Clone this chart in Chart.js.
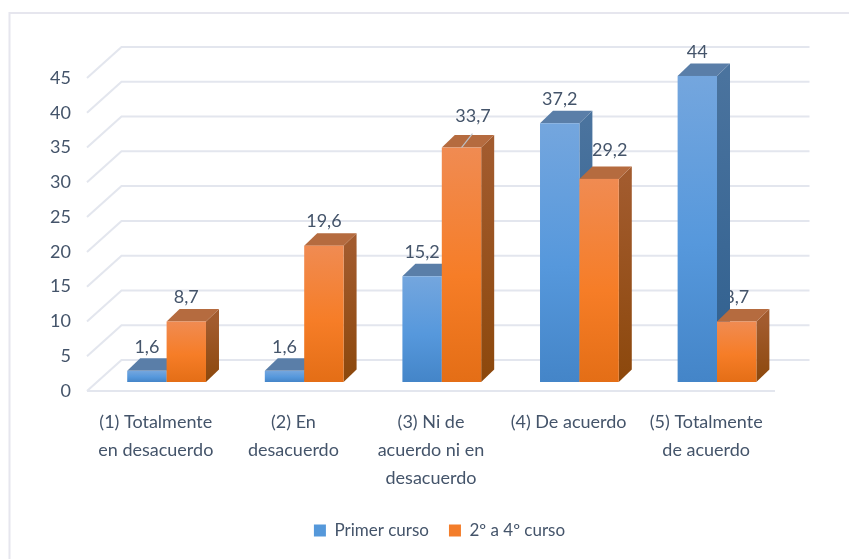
<!DOCTYPE html>
<html>
<head>
<meta charset="utf-8">
<style>
  html, body { margin: 0; padding: 0; background: #fff; }
  #wrap { position: relative; width: 849px; height: 559px; }
</style>
</head>
<body>
<div id="wrap"><canvas id="chart" width="849" height="559"></canvas></div>
<script src="https://cdn.jsdelivr.net/npm/chart.js@4"></script>
<script>
const categories = [
  ['(1) Totalmente', 'en desacuerdo'],
  ['(2) En', 'desacuerdo'],
  ['(3) Ni de', 'acuerdo ni en', 'desacuerdo'],
  ['(4) De acuerdo'],
  ['(5) Totalmente', 'de acuerdo']
]
const primerCurso = [1.6, 1.6, 15.2, 37.2, 44]
const segundoCuarto = [8.7, 19.6, 33.7, 29.2, 8.7]
const seriesNames = ['Primer curso', '2º a 4º curso']
const yTicks = [0, 5, 10, 15, 20, 25, 30, 35, 40, 45]

const textColor = '#44546a'
const gridColor = '#e3e6ee'
const fontName = 'Lato, sans-serif'

// 3d look: back wall offset, bars offset from the front plane, bar depth
const wall = { dx: 34.5, dy: -31 }
const shift = { dx: 10.8, dy: -9 }
const depth = { dx: 13, dy: -12.5 }

const faces = [
  { top: '#5a7ea8', side: ['#4a739e', '#2f5f8e'], front: ['#74a6de', '#5698dc', '#4485c8'] },
  { top: '#b56b3f', side: ['#a25b2e', '#8c480c'], front: ['#f08b52', '#f67d27', '#e46e16'] }
]

// labels that were moved by hand in the original
const labelMoves = { '1:2': { x: 11.5, y: -7 }, '1:3': { x: 10.6, y: -4.6 } }

function frontGradient(ctx, el, colors) {
  const g = ctx.createLinearGradient(0, el.y, 0, el.base)
  g.addColorStop(0, colors[0])
  g.addColorStop(0.55, colors[1])
  g.addColorStop(1, colors[2])
  return g
}

const fake3d = {
  id: 'fake3d',
  // the legend is centred on the whole canvas, not on the plot box
  afterLayout(chart) {
    chart.legend.left += 52
    chart.legend.right += 52
  },
  beforeDraw(chart) {
    const { ctx } = chart
    const y = chart.scales.y
    const left = chart.chartArea.left
    const right = chart.chartArea.right
    ctx.save()
    ctx.fillStyle = '#fff'
    ctx.fillRect(0, 0, chart.width, chart.height)
    ctx.strokeStyle = '#e6e6ee'
    ctx.lineWidth = 2
    ctx.beginPath()
    ctx.moveTo(9.5, chart.height)
    ctx.lineTo(9.5, 13)
    ctx.lineTo(chart.width, 13)
    ctx.stroke()
    ctx.strokeStyle = gridColor
    yTicks.forEach(v => {
      const py = y.getPixelForValue(v)
      ctx.beginPath()
      ctx.moveTo(left, py)
      ctx.lineTo(left + wall.dx, py + wall.dy)
      ctx.lineTo(right + wall.dx, py + wall.dy)
      ctx.stroke()
    })
    const floor = y.getPixelForValue(0)
    ctx.beginPath()
    ctx.moveTo(left, floor)
    ctx.lineTo(right, floor)
    ctx.stroke()
    ctx.restore()
  },
  // the library paints the last dataset first, here blue has to go under orange
  beforeDatasetDraw() {
    return false
  },
  afterDatasetsDraw(chart) {
    const { ctx } = chart
    ctx.save()
    ctx.translate(shift.dx, shift.dy)
    // value labels go under the bars, the tall blue bar hides part of the last 8,7
    ctx.font = '18px ' + fontName
    ctx.fillStyle = textColor
    ctx.textAlign = 'center'
    ctx.textBaseline = 'middle'
    chart.data.datasets.forEach((ds, d) => {
      chart.getDatasetMeta(d).data.forEach((el, i) => {
        const move = labelMoves[d + ':' + i] || { x: 0, y: 0 }
        const lx = el.x + move.x
        const ly = el.y - 24 + move.y
        ctx.fillText(String(ds.data[i]).replace('.', ','), lx, ly)
      })
    })
    chart.data.datasets.forEach((ds, d) => {
      chart.getDatasetMeta(d).controller.draw()
    })
    // leader line of the moved 33,7 label
    const el = chart.getDatasetMeta(1).data[2]
    ctx.strokeStyle = '#bcc0c6'
    ctx.lineWidth = 1.2
    ctx.beginPath()
    ctx.moveTo(el.x, el.y)
    ctx.lineTo(el.x + 11, el.y - 14)
    ctx.stroke()
    ctx.restore()
  }
}

// each bar draws its own side, top and front
class Bar3d extends Chart.BarElement {
  draw(ctx) {
    const half = this.width / 2
    const x0 = this.x - half
    const x1 = this.x + half
    const top = this.y
    const base = this.base
    const f = faces[this.$series]
    const side = ctx.createLinearGradient(0, top, 0, base)
    side.addColorStop(0, f.side[0])
    side.addColorStop(1, f.side[1])
    ctx.fillStyle = side
    ctx.beginPath()
    ctx.moveTo(x1, top)
    ctx.lineTo(x1 + depth.dx, top + depth.dy)
    ctx.lineTo(x1 + depth.dx, base + depth.dy)
    ctx.lineTo(x1, base)
    ctx.closePath()
    ctx.fill()
    ctx.fillStyle = f.top
    ctx.beginPath()
    ctx.moveTo(x0, top)
    ctx.lineTo(x0 + depth.dx, top + depth.dy)
    ctx.lineTo(x1 + depth.dx, top + depth.dy)
    ctx.lineTo(x1, top)
    ctx.closePath()
    ctx.fill()
    ctx.fillStyle = frontGradient(ctx, this, f.front)
    ctx.fillRect(x0, top, this.width, base - top)
  }
}
Bar3d.id = 'bar3d'
Bar3d.defaults = Chart.BarElement.defaults
Bar3d.defaultRoutes = Chart.BarElement.defaultRoutes
Chart.register(Bar3d)

class Bar3dController extends Chart.BarController {
  updateElements(bars, start, count, mode) {
    super.updateElements(bars, start, count, mode)
    bars.forEach(b => { b.$series = this.index })
  }
}
Bar3dController.id = 'bar3d'
Bar3dController.defaults = Object.assign({}, Chart.BarController.defaults, { dataElementType: 'bar3d' })
Bar3dController.overrides = Chart.BarController.overrides
Chart.register(Bar3dController)

new Chart(document.getElementById('chart'), {
  type: 'bar3d',
  data: {
    labels: categories,
    datasets: [
      { label: seriesNames[0], data: primerCurso, backgroundColor: '#5598da' },
      { label: seriesNames[1], data: segundoCuarto, backgroundColor: '#f37d2a' }
    ]
  },
  options: {
    responsive: false,
    animation: false,
    layout: { padding: { left: 0, right: 74, top: 78, bottom: 10 } },
    datasets: { bar3d: { categoryPercentage: 0.5725, barPercentage: 1 } },
    plugins: {
      tooltip: { enabled: false },
      legend: {
        position: 'bottom',
        labels: {
          color: textColor,
          font: { family: fontName, size: 17 },
          boxWidth: 12,
          boxHeight: 12,
          padding: 20
        }
      }
    },
    scales: {
      x: {
        grid: { display: false },
        border: { display: false },
        ticks: {
          color: textColor,
          font: { family: fontName, size: 18, lineHeight: 1.55 },
          maxRotation: 0,
          autoSkip: false,
          padding: 9
        },
        afterFit(scale) { scale.height = 111 }
      },
      y: {
        min: 0,
        max: 45,
        grid: { display: false },
        border: { display: false },
        afterBuildTicks(scale) { scale.ticks = yTicks.map(v => ({ value: v })) },
        ticks: {
          color: textColor,
          font: { family: fontName, size: 18 },
          padding: 8
        },
        afterFit(scale) { scale.width = 87 }
      }
    }
  },
  plugins: [fake3d]
})
</script>
</body>
</html>
